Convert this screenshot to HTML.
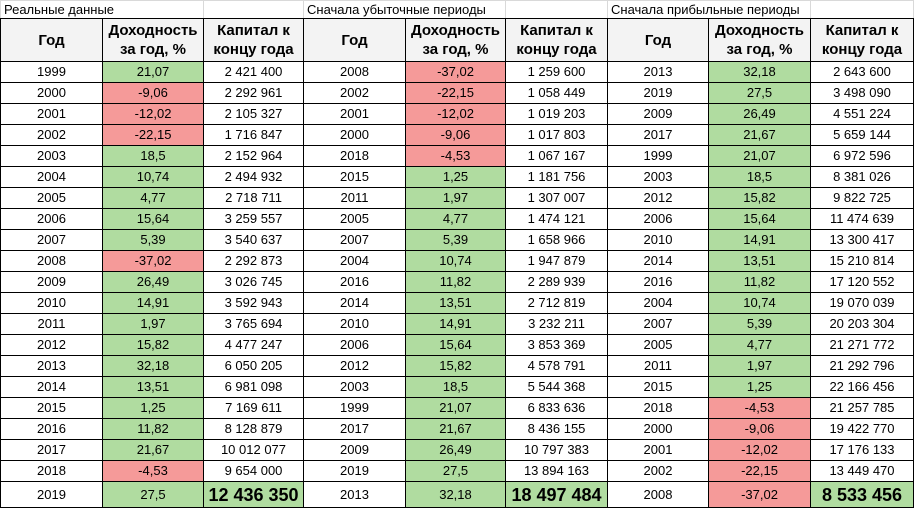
<!DOCTYPE html>
<html><head><meta charset="utf-8"><style>
body{margin:0;background:#fff;width:915px;height:514px;overflow:hidden}
table{border-collapse:collapse;table-layout:fixed;width:913px;font-family:"Liberation Sans",Arial,sans-serif;font-size:13px;color:#000}
td{border:1px solid #000;text-align:center;padding:0;height:20px;line-height:20px;white-space:nowrap;overflow:hidden}
tr.t td{border:1px solid #d9d9d9;border-bottom:1px solid #000;height:17px;line-height:17px;text-align:left;padding-left:3px;font-size:13px}
tr.h td{background:#f3f3f3;font-weight:bold;font-size:15px;line-height:19px;height:42px}
tr.l td{height:24px;line-height:24px;padding-top:1px}
td.b{font-weight:bold;font-size:18px;padding-top:0}
.g{background:#b0dca0}.r{background:#f59a99}
</style></head><body>
<table>
<colgroup><col style="width:102px"><col style="width:101px"><col style="width:100px"><col style="width:102px"><col style="width:100px"><col style="width:102px"><col style="width:101px"><col style="width:102px"><col style="width:103px"></colgroup>
<tr class="t"><td colspan="2">Реальные данные</td><td></td><td colspan="2">Сначала убыточные периоды</td><td></td><td colspan="2">Сначала прибыльные периоды</td><td></td></tr>
<tr class="h"><td>Год</td><td>Доходность<br>за год, %</td><td>Капитал к<br>концу года</td><td>Год</td><td>Доходность<br>за год, %</td><td>Капитал к<br>концу года</td><td>Год</td><td>Доходность<br>за год, %</td><td>Капитал к<br>концу года</td></tr>
<tr><td>1999</td><td class="g">21,07</td><td>2 421 400</td><td>2008</td><td class="r">-37,02</td><td>1 259 600</td><td>2013</td><td class="g">32,18</td><td>2 643 600</td></tr>
<tr><td>2000</td><td class="r">-9,06</td><td>2 292 961</td><td>2002</td><td class="r">-22,15</td><td>1 058 449</td><td>2019</td><td class="g">27,5</td><td>3 498 090</td></tr>
<tr><td>2001</td><td class="r">-12,02</td><td>2 105 327</td><td>2001</td><td class="r">-12,02</td><td>1 019 203</td><td>2009</td><td class="g">26,49</td><td>4 551 224</td></tr>
<tr><td>2002</td><td class="r">-22,15</td><td>1 716 847</td><td>2000</td><td class="r">-9,06</td><td>1 017 803</td><td>2017</td><td class="g">21,67</td><td>5 659 144</td></tr>
<tr><td>2003</td><td class="g">18,5</td><td>2 152 964</td><td>2018</td><td class="r">-4,53</td><td>1 067 167</td><td>1999</td><td class="g">21,07</td><td>6 972 596</td></tr>
<tr><td>2004</td><td class="g">10,74</td><td>2 494 932</td><td>2015</td><td class="g">1,25</td><td>1 181 756</td><td>2003</td><td class="g">18,5</td><td>8 381 026</td></tr>
<tr><td>2005</td><td class="g">4,77</td><td>2 718 711</td><td>2011</td><td class="g">1,97</td><td>1 307 007</td><td>2012</td><td class="g">15,82</td><td>9 822 725</td></tr>
<tr><td>2006</td><td class="g">15,64</td><td>3 259 557</td><td>2005</td><td class="g">4,77</td><td>1 474 121</td><td>2006</td><td class="g">15,64</td><td>11 474 639</td></tr>
<tr><td>2007</td><td class="g">5,39</td><td>3 540 637</td><td>2007</td><td class="g">5,39</td><td>1 658 966</td><td>2010</td><td class="g">14,91</td><td>13 300 417</td></tr>
<tr><td>2008</td><td class="r">-37,02</td><td>2 292 873</td><td>2004</td><td class="g">10,74</td><td>1 947 879</td><td>2014</td><td class="g">13,51</td><td>15 210 814</td></tr>
<tr><td>2009</td><td class="g">26,49</td><td>3 026 745</td><td>2016</td><td class="g">11,82</td><td>2 289 939</td><td>2016</td><td class="g">11,82</td><td>17 120 552</td></tr>
<tr><td>2010</td><td class="g">14,91</td><td>3 592 943</td><td>2014</td><td class="g">13,51</td><td>2 712 819</td><td>2004</td><td class="g">10,74</td><td>19 070 039</td></tr>
<tr><td>2011</td><td class="g">1,97</td><td>3 765 694</td><td>2010</td><td class="g">14,91</td><td>3 232 211</td><td>2007</td><td class="g">5,39</td><td>20 203 304</td></tr>
<tr><td>2012</td><td class="g">15,82</td><td>4 477 247</td><td>2006</td><td class="g">15,64</td><td>3 853 369</td><td>2005</td><td class="g">4,77</td><td>21 271 772</td></tr>
<tr><td>2013</td><td class="g">32,18</td><td>6 050 205</td><td>2012</td><td class="g">15,82</td><td>4 578 791</td><td>2011</td><td class="g">1,97</td><td>21 292 796</td></tr>
<tr><td>2014</td><td class="g">13,51</td><td>6 981 098</td><td>2003</td><td class="g">18,5</td><td>5 544 368</td><td>2015</td><td class="g">1,25</td><td>22 166 456</td></tr>
<tr><td>2015</td><td class="g">1,25</td><td>7 169 611</td><td>1999</td><td class="g">21,07</td><td>6 833 636</td><td>2018</td><td class="r">-4,53</td><td>21 257 785</td></tr>
<tr><td>2016</td><td class="g">11,82</td><td>8 128 879</td><td>2017</td><td class="g">21,67</td><td>8 436 155</td><td>2000</td><td class="r">-9,06</td><td>19 422 770</td></tr>
<tr><td>2017</td><td class="g">21,67</td><td>10 012 077</td><td>2009</td><td class="g">26,49</td><td>10 797 383</td><td>2001</td><td class="r">-12,02</td><td>17 176 133</td></tr>
<tr><td>2018</td><td class="r">-4,53</td><td>9 654 000</td><td>2019</td><td class="g">27,5</td><td>13 894 163</td><td>2002</td><td class="r">-22,15</td><td>13 449 470</td></tr>
<tr class="l"><td>2019</td><td class="g">27,5</td><td class="g b">12 436 350</td><td>2013</td><td class="g">32,18</td><td class="g b">18 497 484</td><td>2008</td><td class="r">-37,02</td><td class="g b">8 533 456</td></tr>
</table>
</body></html>
